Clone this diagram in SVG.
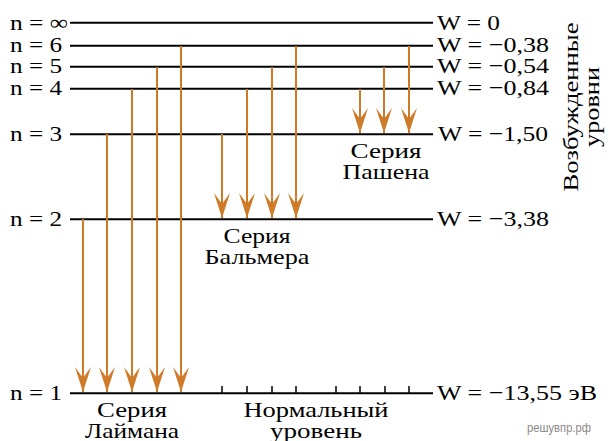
<svg xmlns="http://www.w3.org/2000/svg" width="608" height="441" viewBox="0 0 608 441">
<style>
.lvl{stroke:#000;stroke-width:2;fill:none}
.tick{stroke:#000;stroke-width:1.5}
.arr{stroke:#CF7A26;stroke-width:2;fill:none;marker-end:url(#ah)}
text{font-family:"Liberation Serif","Times New Roman",serif;font-size:22px;fill:#000}
.c{text-anchor:middle}
.wm{font-family:"Liberation Sans",Arial,sans-serif;font-size:13px;fill:#8a8a8a}
</style>
<defs>
<marker id="ah" viewBox="0 0 25 16" refX="25" refY="8" markerWidth="25" markerHeight="16" markerUnits="userSpaceOnUse" orient="auto">
<path d="M25,8 L0,0 L11,8 L0,16 Z" fill="#CF7A26"/>
</marker>
</defs>
<rect width="608" height="441" fill="#fff"/>
<g id="levels">
<g id="level-inf"><line class="lvl" x1="70" y1="22.7" x2="433" y2="22.7"/><text x="10" y="30" textLength="58" lengthAdjust="spacingAndGlyphs">n = ∞</text><text x="437" y="30" textLength="63" lengthAdjust="spacingAndGlyphs">W = 0</text></g>
<g id="level-6"><line class="lvl" x1="70" y1="45.7" x2="433" y2="45.7"/><text x="10" y="52" textLength="52" lengthAdjust="spacingAndGlyphs">n = 6</text><text x="437" y="52" textLength="112" lengthAdjust="spacingAndGlyphs">W = −0,38</text></g>
<g id="level-5"><line class="lvl" x1="70" y1="66.7" x2="433" y2="66.7"/><text x="10" y="73" textLength="52" lengthAdjust="spacingAndGlyphs">n = 5</text><text x="437" y="73" textLength="112" lengthAdjust="spacingAndGlyphs">W = −0,54</text></g>
<g id="level-4"><line class="lvl" x1="70" y1="88.7" x2="433" y2="88.7"/><text x="10" y="95" textLength="52" lengthAdjust="spacingAndGlyphs">n = 4</text><text x="437" y="95" textLength="112" lengthAdjust="spacingAndGlyphs">W = −0,84</text></g>
<g id="level-3"><line class="lvl" x1="70" y1="134.3" x2="433" y2="134.3"/><text x="10" y="140.5" textLength="52" lengthAdjust="spacingAndGlyphs">n = 3</text><text x="438" y="140.5" textLength="110" lengthAdjust="spacingAndGlyphs">W = −1,50</text></g>
<g id="level-2"><line class="lvl" x1="70" y1="219.3" x2="433" y2="219.3"/><text x="10" y="225.5" textLength="52" lengthAdjust="spacingAndGlyphs">n = 2</text><text x="437" y="225.5" textLength="112" lengthAdjust="spacingAndGlyphs">W = −3,38</text></g>
<g id="level-1"><line class="lvl" x1="70" y1="393.3" x2="433" y2="393.3"/><text x="10" y="399.5" textLength="52" lengthAdjust="spacingAndGlyphs">n = 1</text><text x="437" y="399.5" textLength="160" lengthAdjust="spacingAndGlyphs">W = −13,55 эВ</text>
<g id="ticks">
<line class="tick" x1="222" y1="386" x2="222" y2="393"/><line class="tick" x1="247" y1="386" x2="247" y2="393"/><line class="tick" x1="272" y1="386" x2="272" y2="393"/><line class="tick" x1="296" y1="386" x2="296" y2="393"/><line class="tick" x1="336" y1="386" x2="336" y2="393"/><line class="tick" x1="360" y1="386" x2="360" y2="393"/><line class="tick" x1="385" y1="386" x2="385" y2="393"/><line class="tick" x1="409" y1="386" x2="409" y2="393"/>
</g></g>
</g>
<g id="connectors">
<line class="arr" x1="83" y1="219" x2="83" y2="392"/>
<line class="arr" x1="107" y1="134" x2="107" y2="392"/>
<line class="arr" x1="132" y1="89" x2="132" y2="392"/>
<line class="arr" x1="157" y1="67" x2="157" y2="392"/>
<line class="arr" x1="181" y1="46" x2="181" y2="392"/>
<line class="arr" x1="222" y1="134" x2="222" y2="218"/>
<line class="arr" x1="247" y1="89" x2="247" y2="218"/>
<line class="arr" x1="272" y1="67" x2="272" y2="218"/>
<line class="arr" x1="296" y1="46" x2="296" y2="218"/>
<line class="arr" x1="360" y1="89" x2="360" y2="133"/>
<line class="arr" x1="384" y1="67" x2="384" y2="133"/>
<line class="arr" x1="409" y1="46" x2="409" y2="133"/>
</g>
<g id="labels">
<g id="paschen"><text class="c" x="386" y="158" textLength="71" lengthAdjust="spacingAndGlyphs">Серия</text><text class="c" x="386" y="178.5" textLength="87" lengthAdjust="spacingAndGlyphs">Пашена</text></g>
<g id="balmer"><text class="c" x="257" y="243" textLength="67" lengthAdjust="spacingAndGlyphs">Серия</text><text class="c" x="257" y="263.5" textLength="105" lengthAdjust="spacingAndGlyphs">Бальмера</text></g>
<g id="lyman"><text class="c" x="132" y="416.5" textLength="70" lengthAdjust="spacingAndGlyphs">Серия</text><text class="c" x="132" y="437.5" textLength="94" lengthAdjust="spacingAndGlyphs">Лаймана</text></g>
<g id="normal"><text class="c" x="316" y="416.5" textLength="145" lengthAdjust="spacingAndGlyphs">Нормальный</text><text class="c" x="316" y="437.5" textLength="92" lengthAdjust="spacingAndGlyphs">уровень</text></g>
<g id="excited"><text class="c" transform="translate(578,107) rotate(-90)" x="0" y="0" textLength="169" lengthAdjust="spacingAndGlyphs">Возбужденные</text><text class="c" transform="translate(599,107) rotate(-90)" x="0" y="0" textLength="80" lengthAdjust="spacingAndGlyphs">уровни</text></g>
<text class="wm" x="527" y="432" textLength="64" lengthAdjust="spacingAndGlyphs">решувпр.рф</text>
</g>
</svg>
